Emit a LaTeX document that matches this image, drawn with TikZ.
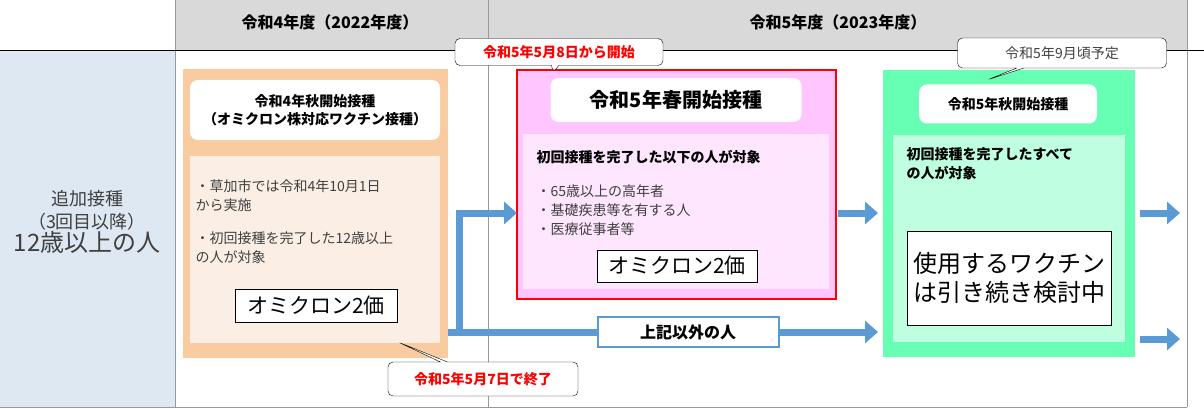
\documentclass[tikz,border=0pt]{standalone}
\usepackage{fontspec}
\setmainfont{Noto Sans CJK JP}
\usetikzlibrary{positioning,arrows.meta,shapes.callouts}
\definecolor{hdgray}{HTML}{D9D9D9}
\definecolor{leftblue}{HTML}{DEE8F3}
\definecolor{orng}{HTML}{F8CBA0}
\definecolor{orngin}{HTML}{FBEEE4}
\definecolor{pnk}{HTML}{FFC5FF}
\definecolor{pnkin}{HTML}{FFE6FF}
\definecolor{grn}{HTML}{66FFB3}
\definecolor{grnin}{HTML}{BFFFDF}
\definecolor{flowblue}{HTML}{5B9BD5}
\newcommand\fsz[2]{\fontsize{#1pt}{#2pt}\selectfont}
\tikzset{
  capbox/.style={fill=white, rounded corners=8pt, font=\fsz{14}{18}\bfseries},
  valbox/.style={draw=black, fill=white, font=\fsz{21}{26}},
  note/.style={rectangle callout, draw=black, fill=white, rounded corners=5pt,
    inner sep=0pt, font=\fsz{14}{18}\bfseries, text=red},
  flow/.style={flowblue, line width=7pt, -{Triangle[width=22pt,length=13pt]}},
}
\begin{document}
\begin{tikzpicture}[x=1pt,y=-1pt]
  \useasboundingbox (0,0) rectangle (1204,409);

  % table
  \fill[hdgray] (175,0) rectangle (1187,50);
  \fill[leftblue] (0,50) rectangle (175,407);
  \draw[gray!80, line width=1pt] (175,0) -- (175,407);
  \draw[gray!80, line width=1pt] (488,0) -- (488,407);
  \draw[gray!80, line width=1pt] (1187,0) -- (1187,407);
  \draw[gray!80, line width=1pt] (0,407) -- (1187,407);
  \draw (0,50) -- (1204,50);
  \node[font=\fsz{16}{20}\bfseries] (hd4) at (330,22) {令和4年度（2022年度）};
  \node[font=\fsz{16}{20}\bfseries] (hd5) at (838,22) {令和5年度（2023年度）};
  \node[align=center, font=\fsz{18}{23}, text=black!75] (target) at (87,222)
    {追加接種\\（3回目以降）\\{\fsz{24}{28}12歳以上の人}};

  % R4 autumn
  \fill[orng] (183,69) rectangle (448,358);
  \node[capbox, minimum width=250pt, minimum height=60pt, align=center]
    (cap4) at (315,110) {令和4年秋開始接種\\（オミクロン株対応ワクチン接種）};
  \fill[orngin] (190,156) rectangle (440,343);
  \node[anchor=north west, align=left, font=\fsz{14}{19}, text=black!75] (txt4)
    at (192,176) {・草加市では令和4年10月1日\\から実施\\[14pt]・初回接種を完了した12歳以上\\の人が対象};
  \node[valbox, minimum width=162pt, minimum height=33pt] (val4) at (316,306) {オミクロン2価};

  % R5 spring
  \draw[red, line width=2pt, fill=pnk] (517,70) rectangle (836,299);
  \node[capbox, minimum width=251pt, minimum height=44pt, font=\fsz{20}{24}\bfseries]
    (cap5s) at (676,100) {令和5年春開始接種};
  \fill[pnkin] (523,134) rectangle (829,289);
  \node[anchor=west, font=\fsz{14}{18}\bfseries] (head5s) at (533,157) {初回接種を完了した以下の人が対象};
  \node[anchor=north west, align=left, font=\fsz{14}{19}, text=black!75] (txt5s)
    at (533,181) {・65歳以上の高年者\\・基礎疾患等を有する人\\・医療従事者等};
  \node[valbox, minimum width=160pt, minimum height=32pt] (val5s) at (677,266) {オミクロン2価};

  % R5 autumn
  \fill[grn] (883,70) rectangle (1135,357);
  \node[capbox, minimum width=178pt, minimum height=39pt] (cap5a) at (1008,104) {令和5年秋開始接種};
  \fill[grnin] (893,135) rectangle (1125,342);
  \node[anchor=north west, align=left, font=\fsz{14}{19}\bfseries] (head5a)
    at (903,144) {初回接種を完了したすべて\\の人が対象};
  \node[valbox, minimum width=204pt, minimum height=94pt, align=center,
    font=\fsz{24}{29}] (val5a) at (1009,278) {使用するワクチン\\は引き続き検討中};

  % flow
  \coordinate (split) at (463,332);
  \node[draw=flowblue, line width=2pt, fill=white, minimum width=181pt,
    minimum height=30pt, font=\fsz{16}{20}\bfseries] (others) at (688,332) {上記以外の人};
  \draw[flowblue, line width=7pt] (448,332) -- (others.west);
  \draw[flow] (others.east) -- (878,332);
  \draw[flow] ([xshift=-3.5pt]split) |- (517,213);
  \draw[flow] (838,213) -- (878,213);
  \draw[flow] (1140,213) -- (1180,213);
  \draw[flow] (1140,339) -- (1180,339);

  % notes
  \node[note, minimum width=208pt, minimum height=27pt, callout absolute pointer={(553,73)}]
    (start5s) at (559,52) {令和5年5月8日から開始};
  \node[note, minimum width=190pt, minimum height=34pt, callout absolute pointer={(398,342)}]
    (end4) at (483,379) {令和5年5月7日で終了};
  \node[note, minimum width=209pt, minimum height=30pt, font=\fsz{14}{18}, text=black!75,
    callout absolute pointer={(987,80)}] (plan5a) at (1062,53) {令和5年9月頃予定};
\end{tikzpicture}
\end{document}
